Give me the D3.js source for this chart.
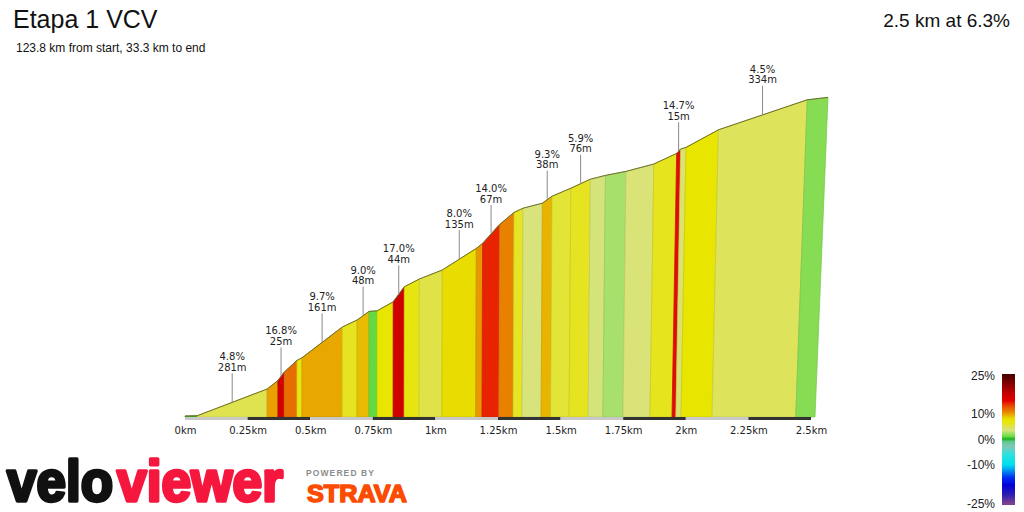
<!DOCTYPE html>
<html>
<head>
<meta charset="utf-8">
<script src="https://cdn.jsdelivr.net/npm/d3@7"></script>
<style>
html, body { margin: 0; padding: 0; background: #fff; }
svg { display: block; }
</style>
</head>
<body>
<div id="target"></div>
<script>
// profile breakpoints (km from climb start) and elevation above chart base (m)
const distKm = [0, 0.048, 0.328, 0.371, 0.396, 0.447, 0.467, 0.628, 0.687, 0.735, 0.767, 0.831, 0.875,
    0.935, 1.026, 1.161, 1.186, 1.253, 1.310, 1.346, 1.422, 1.460, 1.534, 1.610, 1.669, 1.749, 1.857,
    1.945, 1.960, 1.981, 2.105, 2.439, 2.516]
const elevM = [0.5, 0.6, 14.0, 18.2, 22.4, 28.3, 29.6, 45.0, 48.5, 52.8, 53.1, 57.6, 65.1,
    69.0, 73.5, 84.3, 86.8, 96.2, 102.3, 104.4, 106.9, 110.4, 114.4, 118.9, 120.8, 122.8, 126.5,
    131.8, 134.0, 134.8, 143.6, 158.6, 159.8]

// labelled sections
const labelStartKm = [0.048, 0.371, 0.467, 0.687, 0.831, 1.026, 1.186, 1.422, 1.534, 1.945, 2.105]
const labelGrade = ["4.8%", "16.8%", "9.7%", "9.0%", "17.0%", "8.0%", "14.0%", "9.3%", "5.9%", "14.7%", "4.5%"]
const labelLengthM = [281, 25, 161, 48, 44, 135, 67, 38, 76, 15, 334]

const tickKm = [0, 0.25, 0.5, 0.75, 1, 1.25, 1.5, 1.75, 2, 2.25, 2.5]
const legendTicks = [25, 10, 0, -10, -25]

const title = "Etapa 1 VCV"
const subtitle = "123.8 km from start, 33.3 km to end"
const summary = "2.5 km at 6.3%"

// gradient colour scale (grade % -> colour)
const gradeStops = [-25, -22, -18, -15, -12, -10, -6, -3, -1, 0, 1, 1.6, 2.5, 3.3, 4.5, 6, 7, 8, 9.5, 10.7, 12, 14, 15, 17, 20, 25]
const gradeColors = ["#7b4090", "#3020b0", "#0000d8", "#0030f0", "#00a0f0", "#00e0f0", "#30e0e0", "#80c8b8", "#60c890",
    "#1fb01f", "#66dd44", "#88dd55", "#a8e06c", "#d9e37c", "#dde35a", "#e6e41e", "#e8e600", "#e8dc00", "#e8aa00",
    "#e88000", "#e86400", "#e82400", "#e00000", "#d00000", "#a00000", "#4a0000"]

const width = 1024
const height = 512

const svg = d3.select("#target").append("svg")
    .attr("width", width)
    .attr("height", height)

const font = "'Liberation Sans', Arial, sans-serif"
const smallFont = "'DejaVu Sans', Verdana, sans-serif"

//Scales
const maxKm = d3.max(distKm)
const x = d3.scaleLinear().domain([0, 2.5]).range([185, 811])
// the top edge is drawn slightly skewed to the right (fake 3d)
const xTop = d => x(d) + 13 * Math.pow(d / maxKm, 4)
const y = d3.scaleLinear().domain([0, 160]).range([417, 97])
const baseY = y(0)
const elevAt = d3.scaleLinear().domain(distKm).range(elevM)

const color = d3.scaleLinear().domain(gradeStops).range(gradeColors).clamp(true)

//Segments
const segments = d3.pairs(d3.zip(distKm, elevM)).map(([a, b]) => ({
    d0: a[0], e0: a[1], d1: b[0], e1: b[1],
    grade: (b[1] - a[1]) / ((b[0] - a[0]) * 1000) * 100
}))

svg.append("g")
    .selectAll("path")
    .data(segments)
    .enter()
    .append("path")
    .attr("d", s => "M" + [
        [x(s.d0), baseY], [xTop(s.d0), y(s.e0)], [xTop(s.d1), y(s.e1)], [x(s.d1), baseY]
    ].join("L") + "Z")
    .attr("fill", s => color(s.grade))
    .attr("stroke", s => d3.color(color(s.grade)).darker(0.35))
    .attr("stroke-width", 0.7)

//Profile line
svg.append("path")
    .attr("d", d3.line().x(d => xTop(d[0])).y(d => y(d[1]))(d3.zip(distKm, elevM)))
    .attr("fill", "none")
    .attr("stroke", "#6e6e2a")
    .attr("stroke-width", 1)

//Distance bar
svg.append("g")
    .selectAll("rect")
    .data(d3.pairs(tickKm))
    .enter()
    .append("rect")
    .attr("x", d => x(d[0]))
    .attr("y", baseY)
    .attr("width", d => x(d[1]) - x(d[0]))
    .attr("height", 3)
    .attr("fill", (d, i) => i % 2 ? "#333" : "#c8c8c8")

//Axis
const axis = svg.append("g")
    .attr("transform", "translate(0," + (baseY + 3) + ")")
    .call(d3.axisBottom(x).tickValues(tickKm).tickFormat(d => d + "km").tickSize(0).tickPadding(7))
axis.select(".domain").remove()
axis.selectAll("text")
    .attr("font-family", smallFont)
    .attr("font-size", 10)
    .attr("fill", "#222")

//Section labels
const labels = labelStartKm.map((s, i) => {
    const mid = s + labelLengthM[i] / 2000
    return { grade: labelGrade[i], len: labelLengthM[i] + "m", px: xTop(mid), py: y(elevAt(mid)) }
})

const lg = svg.append("g")
    .selectAll("g")
    .data(labels)
    .enter()
    .append("g")

lg.append("line")
    .attr("x1", d => d.px).attr("x2", d => d.px)
    .attr("y1", d => d.py - 29).attr("y2", d => d.py)
    .attr("stroke", "#8a8a8a")
    .attr("stroke-width", 1)

lg.append("text")
    .attr("x", d => d.px)
    .attr("y", d => d.py - 42)
    .text(d => d.grade)
lg.append("text")
    .attr("x", d => d.px)
    .attr("y", d => d.py - 31.5)
    .text(d => d.len)
lg.selectAll("text")
    .attr("text-anchor", "middle")
    .attr("font-family", smallFont)
    .attr("font-size", 10)
    .attr("fill", "#222")

//Titles
svg.append("text")
    .attr("x", 13).attr("y", 28)
    .attr("font-family", font).attr("font-size", 25).attr("fill", "#111")
    .text(title)
svg.append("text")
    .attr("x", 16).attr("y", 52)
    .attr("font-family", font).attr("font-size", 12).attr("fill", "#111")
    .text(subtitle)
svg.append("text")
    .attr("x", 1010).attr("y", 27)
    .attr("text-anchor", "end")
    .attr("font-family", font).attr("font-size", 19).attr("fill", "#111")
    .text(summary)

//Legend
const legendY = d3.scaleLinear().domain([25, -25]).range([375, 503])
const barTop = legendY(25) - 1
const barBottom = legendY(-25) + 2

const grad = svg.append("defs").append("linearGradient")
    .attr("id", "gradeGrad")
    .attr("x1", 0).attr("y1", 0).attr("x2", 0).attr("y2", 1)
grad.selectAll("stop")
    .data(gradeStops.slice().reverse())
    .enter()
    .append("stop")
    .attr("offset", g => (legendY(g) - barTop) / (barBottom - barTop))
    .attr("stop-color", g => color(g))

svg.append("rect")
    .attr("x", 1002).attr("y", barTop)
    .attr("width", 13).attr("height", barBottom - barTop)
    .attr("fill", "url(#gradeGrad)")

svg.append("g")
    .selectAll("text")
    .data(legendTicks)
    .enter()
    .append("text")
    .attr("x", 995)
    .attr("y", g => legendY(g) + 4.5)
    .attr("text-anchor", "end")
    .attr("font-family", font)
    .attr("font-size", 12)
    .attr("fill", "#222")
    .text(g => g + "%")

//Logos (heavy look faked with a same-colour stroke)
const logo = svg.append("g")
logo.append("text")
    .attr("x", 7).attr("y", 501)
    .attr("font-family", font).attr("font-weight", "bold").attr("font-size", 58)
    .attr("textLength", 106).attr("lengthAdjust", "spacingAndGlyphs")
    .attr("fill", "#111").attr("stroke", "#111").attr("stroke-width", 3.5).attr("stroke-linejoin", "round")
    .text("velo")
logo.append("text")
    .attr("x", 117).attr("y", 501)
    .attr("font-family", font).attr("font-weight", "bold").attr("font-size", 58)
    .attr("textLength", 166).attr("lengthAdjust", "spacingAndGlyphs")
    .attr("fill", "#f5173d").attr("stroke", "#f5173d").attr("stroke-width", 3.5).attr("stroke-linejoin", "round")
    .text("viewer")
logo.append("text")
    .attr("x", 306).attr("y", 476)
    .attr("font-family", font).attr("font-weight", "bold").attr("font-size", 8.5)
    .attr("textLength", 68).attr("lengthAdjust", "spacing")
    .attr("fill", "#8c8c8c")
    .text("POWERED BY")
logo.append("text")
    .attr("x", 307).attr("y", 502)
    .attr("font-family", font).attr("font-weight", "bold").attr("font-size", 23)
    .attr("textLength", 100).attr("lengthAdjust", "spacingAndGlyphs")
    .attr("fill", "#fc4c02").attr("stroke", "#fc4c02").attr("stroke-width", 1.5).attr("stroke-linejoin", "round")
    .text("STRAVA")
</script>
</body>
</html>
